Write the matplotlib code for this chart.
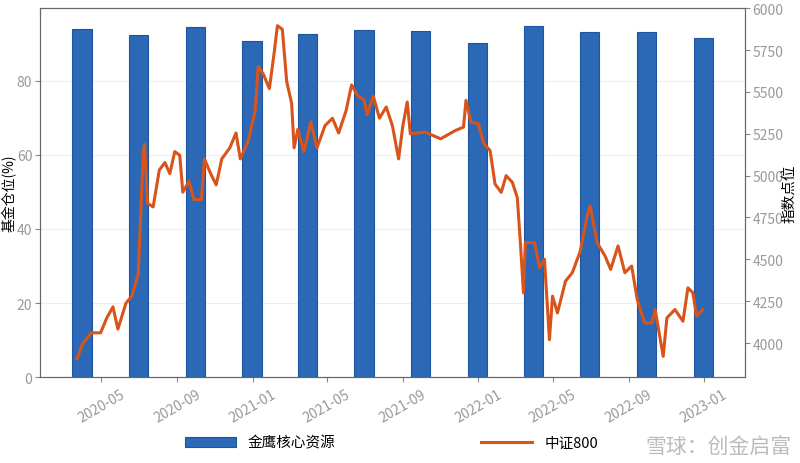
import matplotlib
matplotlib.use("Agg")
import matplotlib.pyplot as plt
import matplotlib.dates as mdates
import pandas as pd

plt.rcParams['font.family'] = ['Noto Sans CJK SC', 'DejaVu Sans']

bar_dates = ["2020-03-31","2020-06-30","2020-09-30","2020-12-31","2021-03-31","2021-06-30",
             "2021-09-30","2021-12-31","2022-03-31","2022-06-30","2022-09-30","2022-12-31"]
bar_values = [94.0, 92.4, 94.5, 90.7, 92.6, 93.6, 93.5, 90.2, 94.8, 93.0, 93.2, 91.5]

line_dates = ["2020-03-23","2020-04-01","2020-04-15","2020-04-30","2020-05-10","2020-05-20","2020-05-28",
 "2020-06-10","2020-06-20","2020-06-30","2020-07-03","2020-07-08","2020-07-10","2020-07-15","2020-07-24",
 "2020-08-03","2020-08-12","2020-08-20","2020-08-28","2020-09-05","2020-09-10","2020-09-20","2020-09-28",
 "2020-10-10","2020-10-15","2020-10-25","2020-11-03","2020-11-12","2020-11-25","2020-12-05","2020-12-12",
 "2020-12-25","2021-01-05","2021-01-10","2021-01-18","2021-01-28","2021-02-05","2021-02-10","2021-02-18",
 "2021-02-25","2021-03-05","2021-03-09","2021-03-15","2021-03-25","2021-04-05","2021-04-15","2021-04-28",
 "2021-05-10","2021-05-20","2021-06-01","2021-06-10","2021-06-20","2021-06-30","2021-07-05","2021-07-15",
 "2021-07-25","2021-08-05","2021-08-15","2021-08-25","2021-09-01","2021-09-08","2021-09-13","2021-10-07",
 "2021-11-01","2021-11-25","2021-12-08","2021-12-12","2021-12-20","2022-01-01","2022-01-10","2022-01-20",
 "2022-01-28","2022-02-07","2022-02-15","2022-02-25","2022-03-05","2022-03-10","2022-03-15","2022-03-18",
 "2022-04-02","2022-04-10","2022-04-18","2022-04-26","2022-05-01","2022-05-09","2022-05-22","2022-06-02",
 "2022-06-15","2022-06-26","2022-07-01","2022-07-12","2022-07-25","2022-08-03","2022-08-15","2022-08-26",
 "2022-09-06","2022-09-15","2022-09-27","2022-10-09","2022-10-14","2022-10-27","2022-11-02","2022-11-15",
 "2022-11-28","2022-12-06","2022-12-14","2022-12-20","2022-12-30"]
line_values = [3906,3995,4061,4061,4150,4216,4083,
 4238,4282,4415,4680,5144,5188,4835,4813,
 5034,5078,5012,5144,5122,4901,4967,4857,
 4857,5100,5012,4945,5100,5166,5255,5100,
 5210,5387,5652,5608,5520,5741,5896,5874,
 5564,5432,5166,5277,5144,5321,5166,5299,
 5343,5255,5387,5542,5476,5454,5365,5476,
 5343,5410,5299,5100,5300,5440,5250,5260,
 5220,5270,5290,5450,5320,5310,5190,5150,
 4950,4900,5000,4960,4870,4600,4300,4600,
 4600,4450,4500,4020,4280,4180,4370,4420,
 4550,4760,4820,4600,4520,4440,4580,4420,
 4460,4260,4120,4120,4200,3920,4150,4200,
 4130,4330,4300,4160,4200]

bd = pd.to_datetime(bar_dates)
ld = pd.to_datetime(line_dates)

fig = plt.figure(figsize=(8, 4.64), dpi=100)
ax = fig.add_axes([0.05, 0.185, 0.881, 0.795])
ax2 = ax.twinx()
ax.set_zorder(1); ax.patch.set_visible(False)
ax2.set_zorder(2)

bars = ax.bar(bd, bar_values, width=31, color='#2b68b6', edgecolor='#1f55a0', linewidth=0.8)
ln, = ax2.plot(ld, line_values, color='#d9541a', linewidth=2.2)

ax.set_ylim(0, 99.5)
ax2.set_ylim(3796, 6000)
ax.set_xlim(pd.Timestamp("2020-01-23"), pd.Timestamp("2023-03-08"))
ax.set_yticks([0, 20, 40, 60, 80])
ax2.set_yticks([4000, 4250, 4500, 4750, 5000, 5250, 5500, 5750, 6000])
ax.yaxis.grid(True, color='#eeeeee', linewidth=0.8)
ax.set_axisbelow(True)
ax.xaxis.set_major_locator(mdates.MonthLocator(bymonth=[1, 5, 9]))
ax.xaxis.set_major_formatter(mdates.DateFormatter('%Y-%m'))
for lab in ax.get_xticklabels():
    lab.set_rotation(30)
    lab.set_ha('center')
for a in (ax, ax2):
    a.tick_params(colors='#888888', labelsize=10, labelcolor='#999999')
    for s in a.spines.values():
        s.set_color('#666666')
ax.tick_params(axis='y', pad=2)
ax2.tick_params(axis='y', pad=2)
ax.set_ylabel('基金仓位(%)', fontsize=10)
ax.yaxis.set_label_coords(-0.033, 0.5)
ax2.set_ylabel('指数点位', fontsize=10.5)
ax2.yaxis.set_label_coords(1.054, 0.5)

fig.legend([bars, ln], ['金鹰核心资源', '中证800'], loc='lower left', bbox_to_anchor=(0.215, 0.0),
           ncol=2, frameon=False, fontsize=10.5, columnspacing=10, handlelength=3.5)
fig.text(0.99, 0.012, '雪球：创金启富', ha='right', va='bottom', fontsize=15, color='#bbbbbb')

fig.savefig('out.png', dpi=100)
